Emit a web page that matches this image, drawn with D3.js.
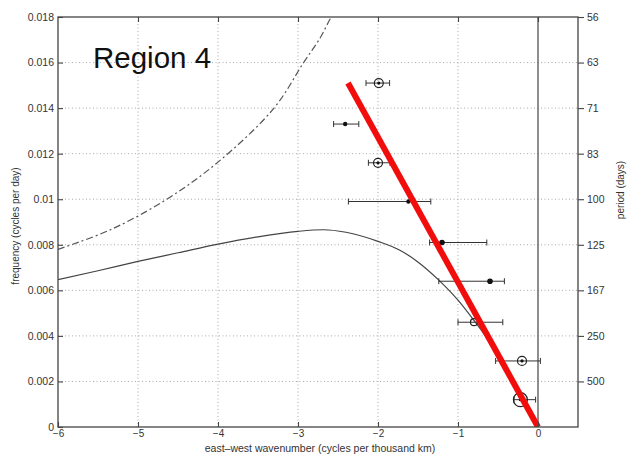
<!DOCTYPE html>
<html><head><meta charset="utf-8">
<script src="https://cdn.jsdelivr.net/npm/d3@7"></script>
<style>
html,body{margin:0;padding:0;background:#fff;}
svg{display:block;font-family:"Liberation Sans",Arial,sans-serif;}
</style></head>
<body><svg id="chart" width="628" height="458"></svg>
<script>
// ---- data ----
const xTicks = [-6, -5, -4, -3, -2, -1, 0];
const yTicks = [0, 0.002, 0.004, 0.006, 0.008, 0.01, 0.012, 0.014, 0.016, 0.018];
const yTickLabels = ["0", "0.002", "0.004", "0.006", "0.008", "0.01", "0.012", "0.014", "0.016", "0.018"];
const periodTicks = [0.002, 0.004, 0.006, 0.008, 0.01, 0.012, 0.014, 0.016, 0.018];
const periodLabels = ["500", "250", "167", "125", "100", "83", "71", "63", "56"];

// observed points (wavenumber, frequency, error-bar bounds, marker kind)
const obsK    = [-1.99, -2.41, -2.00, -1.62, -1.20, -0.60, -0.80, -0.20, -0.22];
const obsF    = [0.0151, 0.0133, 0.0116, 0.0099, 0.0081, 0.0064, 0.0046, 0.0029, 0.0012];
const obsLo   = [-2.15, -2.555, -2.12, -2.37, -1.355, -1.24, -1.00, -0.53, -0.30];
const obsHi   = [-1.855, -2.24, -1.85, -1.34, -0.64, -0.42, -0.44, 0.03, -0.03];
const obsKind = ["circdot", "dot", "circdot", "dot", "dot", "dot", "circ", "circdot", "bigcirc"];

// solid dispersion curve
const solidK = [-6, -5.5, -5, -4.5, -4, -3.5, -3, -2.68, -2.4, -2, -1.72, -1.51, -1.24, -1.0, -0.82, -0.6, -0.4, -0.2, 0];
const solidF = [0.00647, 0.00686, 0.00727, 0.00765, 0.00803, 0.00835, 0.00859, 0.00866, 0.00855, 0.00815, 0.00775, 0.00727, 0.00645, 0.00557, 0.00477, 0.0037, 0.0025, 0.00125, 0];

// dash-dot curve
const dashK = [-6, -5.35, -4.64, -4.0, -3.3, -2.93, -2.72, -2.6, -2.56];
const dashF = [0.0078, 0.00865, 0.0100, 0.01163, 0.0140, 0.0160, 0.0171, 0.0179, 0.0181];

// red fitted line
const redK = [-2.375, 0];
const redF = [0.0151, 0];

const titleText = "Region 4";

// ---- layout ----
const svg = d3.select("#chart");
const L = 58, R = 578, T = 17, B = 427;
const x = d3.scaleLinear().domain([-6, 0.5]).range([L, R]);
const y = d3.scaleLinear().domain([0, 0.018]).range([B, T]);
const ink = "#333";

// grid
const grid = svg.append("g");
grid.selectAll("line.gx").data(xTicks.filter(d => d > -6 && d < 0)).join("line")
  .attr("x1", d => x(d)).attr("x2", d => x(d)).attr("y1", T).attr("y2", B)
  .attr("stroke", "#aaa").attr("stroke-width", 1).attr("stroke-dasharray", "1,2.5");
grid.selectAll("line.gy").data(yTicks.filter(d => d > 0 && d < 0.018)).join("line")
  .attr("x1", L).attr("x2", R).attr("y1", d => y(d)).attr("y2", d => y(d))
  .attr("stroke", "#aaa").attr("stroke-width", 1).attr("stroke-dasharray", "1,2.5");

// zero line
svg.append("line").attr("x1", x(0)).attr("x2", x(0)).attr("y1", T).attr("y2", B)
  .attr("stroke", "#444").attr("stroke-width", 1.2);

// clip
svg.append("clipPath").attr("id", "clip").append("rect")
  .attr("x", L).attr("y", T).attr("width", R - L).attr("height", B - T);

const line = d3.line().x(d => x(d[0])).y(d => y(d[1])).curve(d3.curveMonotoneX);
const plot = svg.append("g").attr("clip-path", "url(#clip)");

plot.append("path").datum(solidK.map((k, i) => [k, solidF[i]]))
  .attr("d", line).attr("fill", "none").attr("stroke", "#444").attr("stroke-width", 1.2);

plot.append("path").datum(dashK.map((k, i) => [k, dashF[i]]))
  .attr("d", d3.line().x(d => x(d[0])).y(d => y(d[1])).curve(d3.curveCatmullRom))
  .attr("fill", "none").attr("stroke", "#555").attr("stroke-width", 1.2)
  .attr("stroke-dasharray", "7,3,2,3");

// error bars and markers
const obs = obsK.map((k, i) => ({k, f: obsF[i], lo: obsLo[i], hi: obsHi[i], kind: obsKind[i]}));
const eb = plot.append("g").attr("stroke", "#333").attr("stroke-width", 1);
eb.selectAll("line.h").data(obs).join("line")
  .attr("x1", d => x(d.lo)).attr("x2", d => x(d.hi)).attr("y1", d => y(d.f)).attr("y2", d => y(d.f));
eb.selectAll("line.cl").data(obs).join("line")
  .attr("x1", d => x(d.lo)).attr("x2", d => x(d.lo)).attr("y1", d => y(d.f) - 3).attr("y2", d => y(d.f) + 3);
eb.selectAll("line.cr").data(obs).join("line")
  .attr("x1", d => x(d.hi)).attr("x2", d => x(d.hi)).attr("y1", d => y(d.f) - 3).attr("y2", d => y(d.f) + 3);

const mk = plot.append("g");
mk.selectAll("circle.o").data(obs.filter(d => d.kind !== "dot")).join("circle")
  .attr("cx", d => x(d.k)).attr("cy", d => y(d.f))
  .attr("r", d => d.kind === "bigcirc" ? 7 : (d.kind === "circ" ? 3.5 : 4.5))
  .attr("fill", "none").attr("stroke", "#222").attr("stroke-width", 1.2);
mk.selectAll("circle.d").data(obs.filter(d => d.kind !== "circ")).join("circle")
  .attr("cx", d => x(d.k)).attr("cy", d => y(d.f))
  .attr("r", d => d.kind === "dot" ? (d.k > -1.3 ? 2.8 : 2.2) : 1.6)
  .attr("fill", "#111");

// red line
plot.append("path").datum(redK.map((k, i) => [k, redF[i]]))
  .attr("d", d3.line().x(d => x(d[0])).y(d => y(d[1])))
  .attr("stroke", "#f20d0d").attr("stroke-width", 6).attr("fill", "none");

// frame
svg.append("rect").attr("x", L).attr("y", T).attr("width", R - L).attr("height", B - T)
  .attr("fill", "none").attr("stroke", "#444").attr("stroke-width", 1.3);

// axes
function styleAxis(g) {
  g.select(".domain").remove();
  g.selectAll(".tick line").attr("stroke", "#444").attr("stroke-width", 1.1);
  g.selectAll(".tick text").attr("fill", ink).attr("font-size", 10.5);
}
svg.append("g").attr("transform", `translate(0,${B})`)
  .call(d3.axisBottom(x).tickValues(xTicks).tickFormat(d3.format("d")).tickSizeInner(-5).tickPadding(3))
  .call(styleAxis)
  .call(g => g.selectAll(".tick text").attr("font-size", 10));
svg.append("g").attr("transform", `translate(0,${T})`)
  .call(d3.axisTop(x).tickValues(xTicks.filter(d => d > -6)).tickFormat("").tickSizeInner(-5))
  .call(styleAxis);
svg.append("g").attr("transform", `translate(${L},0)`)
  .call(d3.axisLeft(y).tickValues(yTicks).tickFormat((d, i) => yTickLabels[i]).tickSizeInner(-5).tickPadding(4))
  .call(styleAxis);
svg.append("g").attr("transform", `translate(${R},0)`)
  .call(d3.axisRight(y).tickValues(periodTicks).tickFormat((d, i) => periodLabels[i]).tickSizeInner(6).tickPadding(3))
  .call(styleAxis);

// axis titles
svg.append("text").attr("x", 320).attr("y", 451.5).attr("text-anchor", "middle")
  .attr("font-size", 10.5).attr("fill", ink).text("east\u2013west wavenumber (cycles per thousand km)");
svg.append("text").attr("transform", "translate(19,226) rotate(-90)").attr("text-anchor", "middle")
  .attr("font-size", 10).attr("fill", ink).text("frequency (cycles per day)");
svg.append("text").attr("transform", "translate(624,190) rotate(-90)").attr("text-anchor", "middle")
  .attr("font-size", 10).attr("fill", ink).text("period (days)");

// region label
svg.append("text").attr("x", 93).attr("y", 68).attr("font-size", 29.5).attr("fill", "#111").text(titleText);
</script></body></html>
